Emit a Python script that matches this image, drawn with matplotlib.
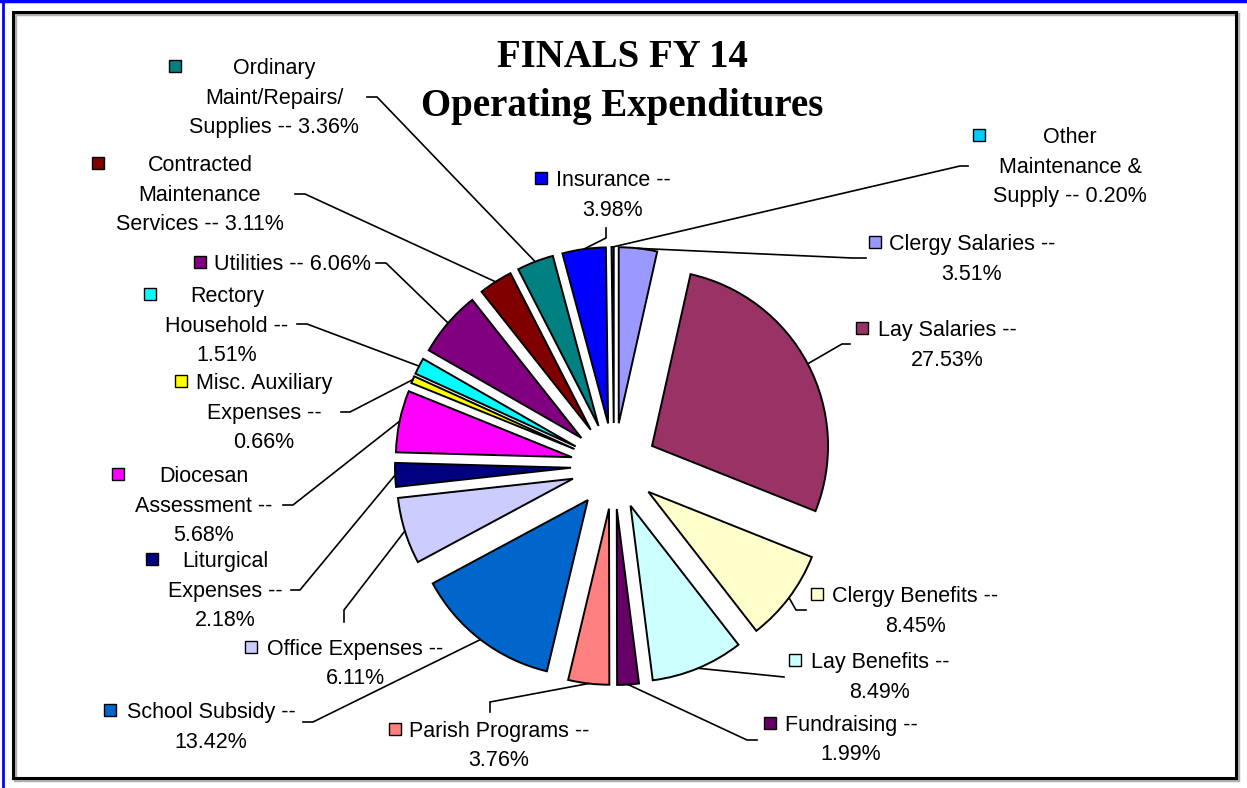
import textwrap

import numpy as np
import matplotlib
matplotlib.use("Agg")
import matplotlib.pyplot as plt
from matplotlib.patches import Rectangle

W, H = 1247, 788

# slices, clockwise from 12 o'clock
categories = [
    "Clergy Salaries", "Lay Salaries", "Clergy Benefits", "Lay Benefits",
    "Fundraising", "Parish Programs", "School Subsidy", "Office Expenses",
    "Liturgical Expenses", "Diocesan Assessment", "Misc. Auxiliary Expenses",
    "Rectory Household", "Utilities", "Contracted Maintenance Services",
    "Ordinary Maint/Repairs/ Supplies", "Insurance", "Other Maintenance & Supply",
]
percents = [3.51, 27.53, 8.45, 8.49, 1.99, 3.76, 13.42, 6.11,
            2.18, 5.68, 0.66, 1.51, 6.06, 3.11, 3.36, 3.98, 0.20]
colors = ["#9999FF", "#993366", "#FFFFCC", "#CCFFFF", "#660066", "#FF8080",
          "#0066CC", "#CCCCFF", "#000080", "#FF00FF", "#FFFF00", "#00FFFF",
          "#800080", "#800000", "#008080", "#0000FF", "#00CCFF"]

# label layout in image pixels: text centre x, first line y, key x, wrap width
label_cx = [972, 947, 915, 880, 851, 499, 211, 355, 225, 204, 264, 227, 292, 200, 274, 613, 1070]
label_y = [242, 328, 594, 660, 723, 729, 710, 647, 559, 474, 381, 294, 262, 163, 66, 178, 135]
key_x = [875, 862, 817, 795, 770, 395, 110, 251, 152, 118, 181, 150, 200, 98, 175, 541, 979]
wrap_w = [18, 15, 18, 15, 14, 18, 17, 18, 11, 13, 15, 12, 20, 17, 17, 12, 15]
# leader line start and elbow (image pixels)
lead_start = [(866, 258), (850, 344), (806, 610), (784, 677), (757, 740), (490, 712),
              (303, 722), (344, 622), (291, 590), (283, 505), (341, 412), (297, 324),
              (376, 263), (295, 194), (367, 97), (606, 228), (968, 166)]
lead_elbow = [(852, 258), (842, 344), (796, 610), (784, 677), (747, 740), (490, 702),
              (313, 722), (344, 610), (300, 590), (293, 505), (350, 412), (307, 324),
              (386, 263), (305, 194), (377, 97), (606, 238), (960, 166)]

PIE_CX, PIE_CY, PIE_R, EXPLODE = 614, 466, 176, 43


def fy(y):
    return H - y


fig = plt.figure(figsize=(W / 100, H / 100), dpi=100)
ax = fig.add_axes([0, 0, 1, 1])

# explode is in data units here (pixels)
wedges, _ = ax.pie(percents, colors=colors, startangle=90, counterclock=False,
                   radius=PIE_R, center=(PIE_CX, fy(PIE_CY)),
                   explode=[EXPLODE] * len(percents), frame=True,
                   wedgeprops=dict(edgecolor="black", linewidth=1.4))

font = dict(family=["Liberation Sans", "DejaVu Sans"], size=15.5, color="black")
for i, w in enumerate(wedges):
    text = f"{categories[i]} -- {percents[i]:.2f}%"
    lines = textwrap.wrap(text, width=wrap_w[i], break_on_hyphens=False)
    for j, line in enumerate(lines):
        ax.text(label_cx[i], fy(label_y[i] + j * 29.5), line, ha="center",
                va="center_baseline", **font)
    ax.plot(key_x[i], fy(label_y[i]), marker="s", ms=8.5, mfc=colors[i],
            mec="black", mew=1.0, ls="none")
    # leader line to middle of the wedge's outer arc
    mid = np.deg2rad((w.theta1 + w.theta2) / 2)
    ex = w.center[0] + w.r * np.cos(mid)
    ey = w.center[1] + w.r * np.sin(mid)
    sx, sy = lead_start[i]
    bx, by = lead_elbow[i]
    ax.plot([sx, bx, ex], [fy(sy), fy(by), ey], color="black", lw=1.2,
            solid_joinstyle="miter")

ax.text(622, fy(82), "FINALS FY 14\nOperating Expenditures", ha="center",
        va="center", family=["Liberation Serif", "DejaVu Serif"],
        fontweight="bold", size=28, linespacing=1.42)

# chart frame with shadow, and the blue outer edge
ax.add_patch(Rectangle((15, fy(780)), 1223, 766, fill=False, ec="#b0b0b0", lw=2.5))
ax.add_patch(Rectangle((13, fy(778)), 1223, 766, fill=False, ec="black", lw=2.2))
ax.plot([0, W], [H - 1, H - 1], color="#0000FF", lw=2.5)
ax.plot([2.5, 2.5], [0, H], color="#0000FF", lw=2)

ax.set_xlim(0, W)
ax.set_ylim(0, H)
ax.set_aspect("auto")
ax.axis("off")

fig.savefig("out.png", dpi=100)
